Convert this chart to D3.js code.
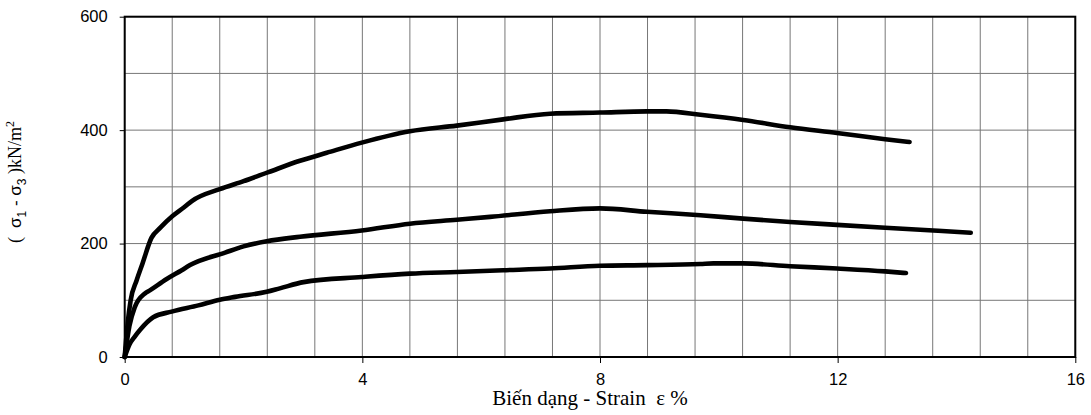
<!DOCTYPE html>
<html><head><meta charset="utf-8">
<script src="https://cdn.jsdelivr.net/npm/d3@7"></script>
<style>body{margin:0;background:#fff}</style>
</head><body>
<svg id="c" width="1091" height="415"></svg>
<script>
const xTicks = [0, 4, 8, 12, 16];
const yTicks = [0, 200, 400, 600];
const xGrid = d3.range(0, 16.01, 0.8);
const yGrid = [0, 100, 200, 300, 400, 500, 600];

const strainUpper = [0, 0.05, 0.1, 0.2, 0.3, 0.45, 0.6, 0.8, 1.0, 1.13, 1.6, 2.0, 2.42, 2.95, 3.4, 3.99, 4.8, 5.59, 6.37, 7.16, 8.0, 8.79, 9.12, 9.69, 10.41, 11.2, 11.99, 12.8, 13.21];
const stressUpper = [0, 60, 100, 135, 165, 210, 228, 248, 264, 275, 296, 310, 326, 346, 360, 378, 398, 408, 419, 429, 431, 433, 433, 427, 418, 405, 395, 384, 379];

const strainMiddle = [0, 0.08, 0.17, 0.34, 0.43, 0.7, 0.96, 1.1, 1.69, 2.0, 2.39, 2.95, 3.99, 4.8, 5.59, 6.15, 7.16, 8.0, 8.79, 9.69, 10.41, 11.2, 11.99, 12.8, 13.61, 14.24];
const stressMiddle = [0, 55, 88, 112, 118, 137, 153, 162, 184, 195, 204, 212, 223, 235, 242, 247, 257, 262, 256, 250, 244, 238, 233, 228, 223, 219];

const strainLower = [0, 0.08, 0.17, 0.26, 0.48, 0.79, 1.24, 1.6, 1.86, 2.39, 2.61, 3.01, 3.99, 4.8, 5.59, 6.37, 7.16, 8.0, 8.79, 9.69, 9.91, 10.41, 11.2, 11.99, 12.8, 13.15];
const stressLower = [0, 22, 36, 48, 70, 80, 91, 101, 106, 115, 121, 132, 141, 147, 150, 153, 156, 161, 162, 164, 165, 165, 160, 156, 151, 148];

const svg = d3.select('#c');
const L = 124.7, R = 1075.3, T = 16.7, B = 357;
const x = d3.scaleLinear().domain([0, 16]).range([L, R]);
const y = d3.scaleLinear().domain([0, 600]).range([B, T]);

const g = svg.append('g');
g.selectAll('.vg').data(xGrid).enter().append('line')
  .attr('x1', d => x(d)).attr('x2', d => x(d)).attr('y1', T).attr('y2', B)
  .attr('stroke', '#777').attr('stroke-width', 1);
g.selectAll('.hg').data(yGrid).enter().append('line')
  .attr('y1', d => y(d)).attr('y2', d => y(d)).attr('x1', L).attr('x2', R)
  .attr('stroke', '#777').attr('stroke-width', 1);

g.append('rect').attr('x', L).attr('y', T).attr('width', R - L).attr('height', B - T)
  .attr('fill', 'none').attr('stroke', '#000').attr('stroke-width', 2);

const xAxis = d3.axisBottom(x).tickValues(xTicks).tickSize(6).tickPadding(10).tickFormat(d3.format('d'));
const yAxis = d3.axisLeft(y).tickValues(yTicks).tickSize(5).tickPadding(12).tickFormat(d3.format('d'));
const gx = svg.append('g').attr('transform', `translate(0,${B})`).call(xAxis);
const gy = svg.append('g').attr('transform', `translate(${L},0)`).call(yAxis);
[gx, gy].forEach(a => {
  a.select('.domain').remove();
  a.selectAll('text').attr('font-family', 'Liberation Sans, Arial, sans-serif').attr('font-size', 16.5).attr('fill', '#000');
  a.selectAll('line').attr('stroke', '#000').attr('stroke-width', 1);
});

const line = d3.line().x(d => x(d[0])).y(d => y(d[1])).curve(d3.curveMonotoneX);
[[strainUpper, stressUpper], [strainMiddle, stressMiddle], [strainLower, stressLower]].forEach(([xs, ys]) => {
  svg.append('path').datum(xs.map((v, i) => [v, ys[i]]))
    .attr('d', line).attr('fill', 'none').attr('stroke', '#000')
    .attr('stroke-width', 4.6).attr('stroke-linejoin', 'round').attr('stroke-linecap', 'round');
});

svg.append('text').attr('x', 590).attr('y', 405).attr('text-anchor', 'middle')
  .attr('font-family', 'Liberation Serif, Times New Roman, serif').attr('font-size', 21)
  .style('white-space', 'pre')
  .text('Biến dạng - Strain  ε %');

const sans = 'Liberation Sans, Arial, sans-serif';
const yl = svg.append('text').attr('transform', 'translate(21,182) rotate(-90)').attr('text-anchor', 'middle')
  .attr('font-family', 'Liberation Serif, Times New Roman, serif').attr('font-size', 18)
  .style('white-space', 'pre');
yl.append('tspan').text('(  ');
yl.append('tspan').attr('font-family', sans).attr('font-size', 17).text('σ');
yl.append('tspan').attr('font-family', sans).attr('font-size', 12).attr('dy', 5).text('1');
yl.append('tspan').attr('font-family', sans).attr('font-size', 17).attr('dy', -5).text(' - ');
yl.append('tspan').attr('font-family', sans).attr('font-size', 17).text('σ');
yl.append('tspan').attr('font-family', sans).attr('font-size', 12).attr('dy', 5).text('3');
yl.append('tspan').attr('dy', -5).text(' )kN/m');
yl.append('tspan').attr('font-size', 12).attr('dy', -7).text('2');
</script>
</body></html>
